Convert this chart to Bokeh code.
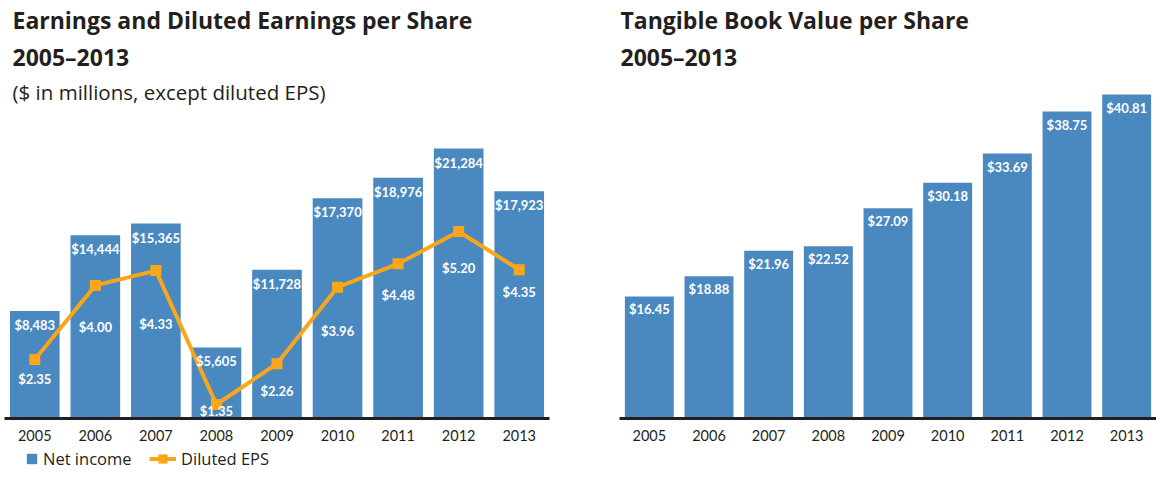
from bokeh.plotting import figure
from bokeh.models import ColumnDataSource, Range1d, Label, Legend, LegendItem, FactorRange
from bokeh.layouts import row, column
from bokeh.embed import file_html
from bokeh.resources import INLINE
from bokeh.core.properties import value

# ---- data ----
years = ["2005", "2006", "2007", "2008", "2009", "2010", "2011", "2012", "2013"]
net_income = [8483, 14444, 15365, 5605, 11728, 17370, 18976, 21284, 17923]
diluted_eps = [2.35, 4.00, 4.33, 1.35, 2.26, 3.96, 4.48, 5.20, 4.35]
tbvps = [16.45, 18.88, 21.96, 22.52, 27.09, 30.18, 33.69, 38.75, 40.81]

# ---- styles ----
BLUE = "#4A89C0"
ORANGE = "#FAA61A"
DARK = "#231F20"
FONT = "Lato"
TFONT = "Open Sans"
eps_label_offsets = [19, 42, 53, 6, 27, 44, 31, 37, 22]
FRAME_H = 418


def style(p):
    p.outline_line_color = None
    p.xgrid.visible = False
    p.ygrid.visible = False
    p.background_fill_color = "white"
    p.border_fill_color = "white"
    ax = p.xaxis[0]
    ax.axis_line_width = 3
    ax.axis_line_color = DARK
    ax.major_tick_line_color = None
    ax.minor_tick_line_color = None
    ax.major_tick_out = 0
    ax.major_tick_in = 0
    ax.major_label_standoff = 11
    ax.major_label_text_font = FONT
    ax.major_label_text_font_size = "14.5px"
    ax.major_label_text_color = DARK


def title_label(p, x, y_from_top, text, size, bold):
    p.add_layout(Label(x=x, y=FRAME_H - y_from_top, x_units="screen", y_units="screen",
                       text=text, text_font=TFONT, text_font_size=size,
                       text_font_style="bold" if bold else "normal",
                       text_color=DARK, text_baseline="alphabetic"))


def legend_box(items, loc, glyph_w, glyph_h):
    return Legend(items=items, location=loc, orientation="horizontal",
                  glyph_width=glyph_w, glyph_height=glyph_h, label_height=13,
                  label_standoff=5, spacing=0, padding=0, margin=0,
                  border_line_color=None, background_fill_alpha=0,
                  label_text_font=TFONT, label_text_font_size="16.5px",
                  label_text_color=DARK)


# ---- left chart ----
src1 = ColumnDataSource(dict(
    year=years, ni=net_income, eps=diluted_eps,
    ni_label=[f"${v:,}" for v in net_income],
    eps_label=[f"${v:.2f}" for v in diluted_eps],
    eps_off=eps_label_offsets,
))

p1 = figure(x_range=FactorRange(*years), y_range=Range1d(0, 32951),
            frame_width=545, frame_height=FRAME_H, title=None,
            min_border_left=4, min_border_right=31, min_border_top=0, min_border_bottom=29,
            y_axis_location=None, toolbar_location=None, output_backend="svg")
p1.extra_y_ranges = {"eps": Range1d(1.039, 10.34)}
style(p1)

p1.vbar(x="year", top="ni", width=0.82, source=src1, fill_color=BLUE, line_color=None)
p1.line(x="year", y="eps", source=src1, y_range_name="eps", line_color=ORANGE, line_width=4)
p1.scatter(x="year", y="eps", source=src1, y_range_name="eps", marker="square",
           size=11, fill_color=ORANGE, line_color=None)
p1.text(x="year", y="ni", text="ni_label", source=src1, text_align="center",
        text_baseline="middle", y_offset=14, text_color="white",
        text_font=value(FONT), text_font_style="bold", text_font_size="13px")
p1.text(x="year", y="eps", text="eps_label", source=src1, y_range_name="eps",
        text_align="center", text_baseline="middle", y_offset="eps_off",
        text_color="white", text_font=value(FONT), text_font_style="bold",
        text_font_size="13px")

title_label(p1, 8, 19, "Earnings and Diluted Earnings per Share", "23px", True)
title_label(p1, 8, 56, "2005–2013", "23px", True)
title_label(p1, 8, 91, "($ in millions, except diluted EPS)", "20.5px", False)

# ---- legend strip under the left chart ----
pl = figure(width=580, height=23, x_range=Range1d(0, 1), y_range=Range1d(0, 1),
            title=None, min_border=0, x_axis_location=None, y_axis_location=None,
            toolbar_location=None, output_backend="svg")
pl.outline_line_color = None
pl.xgrid.visible = False
pl.ygrid.visible = False
ni_proxy = pl.vbar(x=[-5], top=[-5], width=0.5, fill_color=BLUE, line_color=None)
eps_line = pl.line(x=[-5, -4], y=[-5, -5], line_color=ORANGE, line_width=4)
eps_pts = pl.scatter(x=[-5], y=[-5], marker="square", size=11, fill_color=ORANGE, line_color=None)
pl.add_layout(legend_box([LegendItem(label="Net income", renderers=[ni_proxy])],
                         (21, 0), 13, 13), "center")
pl.add_layout(legend_box([LegendItem(label="Diluted EPS", renderers=[eps_line, eps_pts])],
                         (145, 0), 27, 23), "center")

# ---- right chart ----
src2 = ColumnDataSource(dict(year=years, tb=tbvps, tb_label=[f"${v:.2f}" for v in tbvps]))

p2 = figure(x_range=FactorRange(*years), y_range=Range1d(1.73, 52.15),
            frame_width=537, frame_height=FRAME_H, title=None,
            min_border_left=39, min_border_right=0, min_border_top=0, min_border_bottom=29,
            y_axis_location=None, toolbar_location=None, output_backend="svg")
style(p2)
p2.vbar(x="year", top="tb", width=0.82, source=src2, fill_color=BLUE, line_color=None)
p2.text(x="year", y="tb", text="tb_label", source=src2, text_align="center",
        text_baseline="middle", y_offset=13, text_color="white",
        text_font=value(FONT), text_font_style="bold", text_font_size="13px")

title_label(p2, 1, 19, "Tangible Book Value per Share", "23px", True)
title_label(p2, 1, 56, "2005–2013", "23px", True)

layout = row(column(p1, pl), p2)
open("out.html", "w").write(file_html(layout, INLINE))
